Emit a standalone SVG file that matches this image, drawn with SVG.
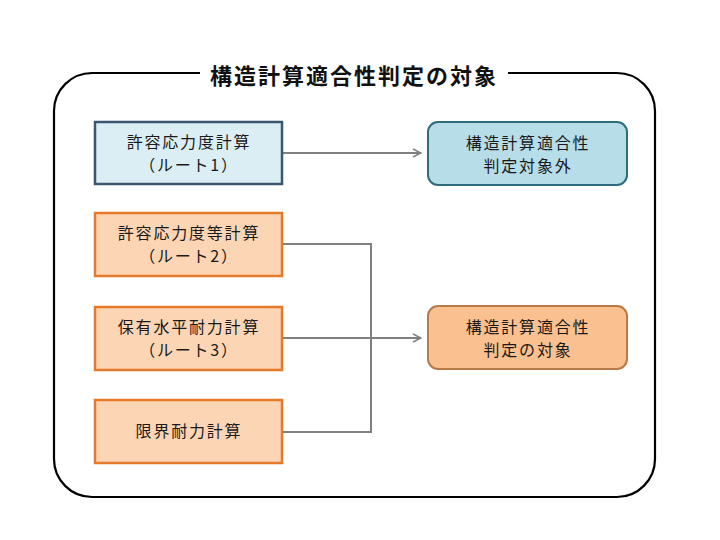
<svg xmlns="http://www.w3.org/2000/svg" width="720" height="540" viewBox="0 0 720 540">
<defs>
<style>
text{font-family:"Noto Sans CJK JP","Noto Sans CJK SC",sans-serif;font-size:16px;fill:#1a1a1a;text-anchor:middle;letter-spacing:1.8px}
.title{font-size:22px;font-weight:bold;letter-spacing:2px;fill:#111}
.frame{fill:none;stroke:#000;stroke-width:2.2}
.blue{fill:#DBEEF4;stroke:#3B5670;stroke-width:2.5}
.blueR{fill:#B7DDE8;stroke:#2F6C7E;stroke-width:2}
.orange{fill:#FCD5B5;stroke:#E57A2A;stroke-width:2.5}
.orangeR{fill:#FAC08F;stroke:#B87A48;stroke-width:2}
.conn{fill:none;stroke:#808080;stroke-width:2}
</style>
<marker id="arr" viewBox="0 0 10 10" refX="9" refY="5" markerWidth="10" markerHeight="10" markerUnits="userSpaceOnUse" orient="auto">
<path d="M1,1 L9,5 L1,9" fill="none" stroke="#808080" stroke-width="1.5"/>
</marker>
</defs>
<rect width="720" height="540" fill="#fff"/>
<g id="frame">
<path class="frame" d="M200,73 L92,73 A38,38 0 0 0 54,111 L54,459 A38,38 0 0 0 92,497 L617,497 A38,38 0 0 0 655,459 L655,111 A38,38 0 0 0 617,73 L508,73"/>
<text class="title" x="354" y="84">構造計算適合性判定の対象</text>
</g>
<g id="connectors">
<path class="conn" d="M282,153 L421,153" marker-end="url(#arr)"/>
<path class="conn" d="M282,338 L421,338" marker-end="url(#arr)"/>
<path class="conn" d="M282,244 L371,244 L371,432 L282,432"/>
</g>
<g id="route1">
<rect class="blue" x="95" y="122" width="187" height="62"/>
<text x="189" y="148">許容応力度計算</text>
<text x="189" y="171">（ルート1）</text>
</g>
<g id="route2">
<rect class="orange" x="95" y="213" width="187" height="63"/>
<text x="189" y="239">許容応力度等計算</text>
<text x="189" y="262">（ルート2）</text>
</g>
<g id="route3">
<rect class="orange" x="95" y="307" width="187" height="63"/>
<text x="189" y="333">保有水平耐力計算</text>
<text x="189" y="356">（ルート3）</text>
</g>
<g id="genkai">
<rect class="orange" x="95" y="400" width="187" height="63"/>
<text x="189" y="437">限界耐力計算</text>
</g>
<g id="out">
<rect class="blueR" x="428" y="122" width="199" height="63" rx="10"/>
<text x="528" y="149">構造計算適合性</text>
<text x="528" y="172">判定対象外</text>
</g>
<g id="target">
<rect class="orangeR" x="428" y="306" width="199" height="63" rx="10"/>
<text x="528" y="333">構造計算適合性</text>
<text x="528" y="356">判定の対象</text>
</g>
</svg>
